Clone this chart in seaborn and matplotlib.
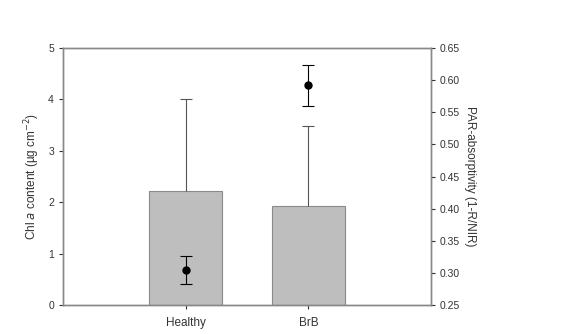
import matplotlib
matplotlib.use("Agg")
import matplotlib.pyplot as plt
import seaborn as sns
import pandas as pd

categories = ["Healthy", "BrB"]
chl_mean = [2.22, 1.93]
chl_err = [1.79, 1.55]
par_mean = [0.304, 0.592]
par_err = [0.022, 0.032]

sns.set_style("ticks")
plt.rcParams['font.family'] = ['Liberation Sans', 'DejaVu Sans']

fig = plt.figure(figsize=(5.62, 3.34), dpi=100)
ax = fig.add_axes([0.112, 0.087, 0.655, 0.769])
df = pd.DataFrame({"cat": categories, "chl": chl_mean})
sns.barplot(data=df, x="cat", y="chl", ax=ax, color="#bebebe", width=0.6,
            edgecolor="#8a8a8a", linewidth=0.8, saturation=1, errorbar=None)
eb = ax.errorbar(range(len(categories)), chl_mean, yerr=[[0]*len(chl_err), chl_err],
                 fmt="none", ecolor="#555555", elinewidth=0.8, capsize=4, capthick=0.8)
eb[1][0].set_visible(False)
ax.set_xlim(-1, 2)
ax.set_ylim(0, 5)
ax.set_xlabel("")
ax.set_ylabel("Chl $\\it{a}$ content (µg cm$^{-2}$)", fontsize=8.5, color="#333333", labelpad=4)
ax.tick_params(labelsize=7.5, colors="#333333", length=3, width=0.8)
ax.tick_params(axis='x', labelsize=8.5, pad=6)

ax2 = ax.twinx()
ax2.errorbar(range(len(categories)), par_mean, yerr=par_err, fmt="o", color="black",
             markersize=5, ecolor="black", elinewidth=0.8, capsize=4, capthick=0.8)
ax2.set_ylim(0.25, 0.65)
ticks2 = [0.25, 0.30, 0.35, 0.40, 0.45, 0.50, 0.55, 0.60, 0.65]
ax2.set_yticks(ticks2)
ax2.set_yticklabels([f"{v:.2f}" for v in ticks2])
ax2.set_ylabel("PAR-absorptivity (1-R/NIR)", fontsize=8.5, color="#333333", rotation=270, labelpad=11)
ax2.tick_params(labelsize=7.5, colors="#333333", length=3, width=0.8)
ax2.set_xlim(-1, 2)

for a in (ax, ax2):
    for s in a.spines.values():
        s.set_color("#888888")
        s.set_linewidth(1.0)
        s.set_visible(True)

fig.savefig("out.png", dpi=100)
